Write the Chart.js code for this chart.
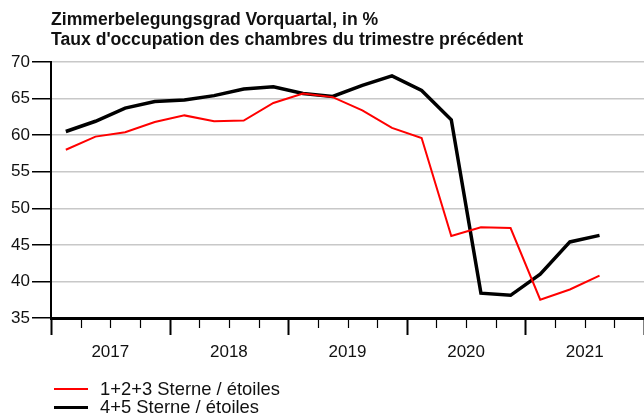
<!DOCTYPE html>
<html>
<head>
<meta charset="utf-8">
<script src="https://cdn.jsdelivr.net/npm/chart.js@4/dist/chart.umd.min.js"></script>
<style>
  html, body { margin: 0; padding: 0; background: #fff; }
  #wrap { position: relative; width: 644px; height: 419px; font-family: "Liberation Sans", Arial, sans-serif; color: #111; }
  #title { position: absolute; left: 51px; top: 9px; font-weight: bold; font-size: 17.6px; line-height: 20px; white-space: nowrap; }
  #legend { position: absolute; left: 54px; top: 380px; font-size: 18.4px; line-height: 18px; }
  #legend .item { display: flex; align-items: center; }
  #legend .swatch { width: 34px; margin-right: 12px; }
  canvas { position: absolute; left: 0; top: 0; }
</style>
</head>
<body>
<div id="wrap">
  <canvas id="chart" width="644" height="419"></canvas>
  <div id="title">Zimmerbelegungsgrad Vorquartal, in %<br>Taux d'occupation des chambres du trimestre précédent</div>
  <div id="legend"></div>
</div>
<script>
// quarterly values, Q1 2017 .. Q3 2021
const years = ['2017', '2018', '2019', '2020', '2021'];
const stars123 = [58.0, 59.8, 60.4, 61.8, 62.7, 61.9, 62.0, 64.4, 65.7, 65.2, 63.4, 61.0, 59.6, 46.2, 47.4, 47.3, 37.5, 38.9, 40.8];
const stars45  = [60.5, 61.9, 63.7, 64.6, 64.8, 65.4, 66.3, 66.6, 65.7, 65.3, 66.8, 68.1, 66.1, 62.1, 38.4, 38.1, 41.0, 45.4, 46.3];
const seriesNames = ['1+2+3 Sterne / étoiles', '4+5 Sterne / étoiles'];
const yTicks = [35, 40, 45, 50, 55, 60, 65, 70];

const toPoints = arr => arr.map((v, i) => ({ x: i + 0.5, y: v }));

// quarter tick marks under the x axis, longer at year boundaries
const quarterTicks = {
  id: 'quarterTicks',
  afterDraw(chart) {
    const xs = chart.scales.x, area = chart.chartArea, ctx = chart.ctx;
    ctx.save();
    ctx.strokeStyle = '#000';
    for (let q = 0; q <= years.length * 4; q++) {
      const x = Math.round(xs.getPixelForValue(q)) + 0.5;
      const major = q % 4 === 0;
      ctx.lineWidth = major ? 2 : 1.2;
      ctx.beginPath();
      ctx.moveTo(x, area.bottom);
      ctx.lineTo(x, area.bottom + (major ? 17 : 10));
      ctx.stroke();
    }
    ctx.restore();
  }
};

const datasets = [
  { label: seriesNames[0], data: toPoints(stars123), borderColor: '#ff0000', borderWidth: 2 },
  { label: seriesNames[1], data: toPoints(stars45), borderColor: '#000000', borderWidth: 3.5 },
];

new Chart(document.getElementById('chart'), {
  type: 'line',
  data: { datasets: datasets.map(d => Object.assign({ pointRadius: 0, tension: 0, fill: false }, d)) },
  options: {
    responsive: false,
    animation: false,
    layout: { padding: { top: 62, right: 0, left: 0, bottom: 0 } },
    plugins: { legend: { display: false }, tooltip: { enabled: false }, title: { display: false } },
    scales: {
      x: {
        type: 'linear', min: 0, max: years.length * 4,
        afterBuildTicks: s => { s.ticks = years.map((_, i) => ({ value: i * 4 + 2 })); },
        afterFit: s => { s.height = 101; },
        grid: { display: false, drawTicks: false },
        border: { display: true, color: '#000', width: 3 },
        ticks: {
          autoSkip: false, maxRotation: 0, padding: 24,
          color: '#111', font: { family: '"Liberation Sans", Arial, sans-serif', size: 17 },
          callback: v => years[(v - 2) / 4] || ''
        }
      },
      y: {
        min: 35, max: 70,
        afterBuildTicks: s => { s.ticks = yTicks.map(v => ({ value: v })); },
        afterFit: s => { s.width = 51; },
        grid: { color: '#c8c8c8', lineWidth: 1.5, tickColor: '#000', tickLength: 19, tickWidth: 1.5 },
        border: { display: true, color: '#000', width: 2 },
        ticks: {
          padding: 2, color: '#111',
          font: { family: '"Liberation Sans", Arial, sans-serif', size: 17 }
        }
      }
    }
  },
  plugins: [quarterTicks]
});

// legend as line samples + labels
const legend = document.getElementById('legend');
datasets.forEach(d => {
  const item = document.createElement('div');
  item.className = 'item';
  const sw = document.createElement('div');
  sw.className = 'swatch';
  sw.style.borderTop = d.borderWidth + 'px solid ' + d.borderColor;
  const label = document.createElement('span');
  label.textContent = d.label;
  item.appendChild(sw);
  item.appendChild(label);
  legend.appendChild(item);
});
</script>
</body>
</html>
